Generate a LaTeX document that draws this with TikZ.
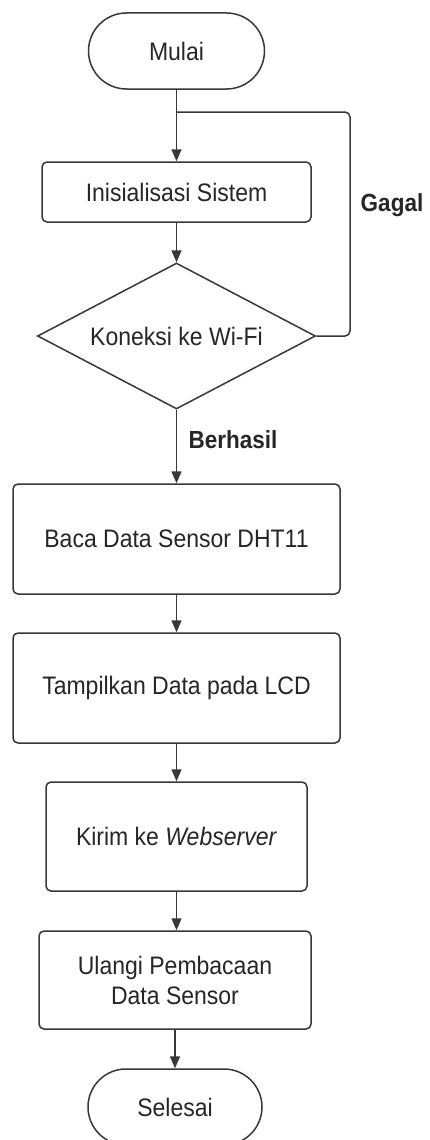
\documentclass[tikz,border=0pt]{standalone}
\usepackage{fontspec}
\setmainfont{Liberation Sans}
\usetikzlibrary{shapes.geometric,arrows.meta}
\definecolor{ln}{HTML}{383838}
\definecolor{tx}{HTML}{262626}
\newcommand{\vsc}[1]{\scalebox{1}[1.1]{#1}}
\tikzset{
  base/.style={draw=ln, line width=1.5pt, text=tx, inner sep=0pt, font=\fontsize{23}{30}\selectfont, align=center},
  term/.style={base, rectangle, rounded corners=38pt, minimum width=176pt, minimum height=76pt},
  proc/.style={base, rectangle, rounded corners=5pt},
  dec/.style={base, diamond, aspect=1.9, minimum width=278pt, minimum height=146pt},
  arr/.style={draw=ln, line width=1.5pt, -{Triangle[length=12pt,width=10pt]}},
  lnk/.style={draw=ln, line width=1.5pt, rounded corners=5pt},
  lbl/.style={text=tx, font=\fontsize{22.5}{27}\selectfont\bfseries, inner sep=0pt}
}
\begin{document}
\begin{tikzpicture}[x=1pt,y=-1pt]
\path[use as bounding box, fill=white] (0,0) rectangle (429,1140);
\node[term] (start) at (176.5,51) {\vsc{Mulai}};
\node[proc, minimum width=269pt, minimum height=60pt] (init) at (176.5,192) {\vsc{Inisialisasi Sistem}};
\node[dec] (wifi) at (176.5,336) {\vsc{Koneksi ke Wi-Fi}};
\node[proc, minimum width=327pt, minimum height=110pt] (baca) at (176.5,539) {\vsc{Baca Data Sensor DHT11}};
\node[proc, minimum width=327pt, minimum height=110pt] (lcd) at (176.5,688) {\vsc{Tampilkan Data pada LCD}};
\node[proc, minimum width=261pt, minimum height=109pt] (kirim) at (176.5,836.5) {\vsc{Kirim ke \textit{Webserver}}};
\node[proc, minimum width=272pt, minimum height=98pt] (ulang) at (175,980) {\vsc{Ulangi Pembacaan}\\\vsc{Data Sensor}};
\node[term, minimum width=174pt] (end) at (175,1107) {\vsc{Selesai}};
\coordinate (j) at (176.5,112);
\coordinate (r1) at (350,336);
\coordinate (r2) at (350,112);
\node[lbl] (gagal) at (392,205) {\vsc{Gagal}};
\node[lbl] (berhasil) at (233,440) {\vsc{Berhasil}};
\draw[arr] (start.south) -- (init.north);
\draw[arr] (init.south) -- (wifi.north);
\draw[lnk] (wifi.east) -- (r1) -- (r2) -- (j);
\draw[arr] (wifi.south) -- (baca.north);
\draw[arr] (baca.south) -- (lcd.north);
\draw[arr] (lcd.south) -- (kirim.north);
\draw[arr] (kirim.south) -- (kirim.south |- ulang.north);
\draw[arr] (ulang.south) -- (end.north);
\end{tikzpicture}
\end{document}
